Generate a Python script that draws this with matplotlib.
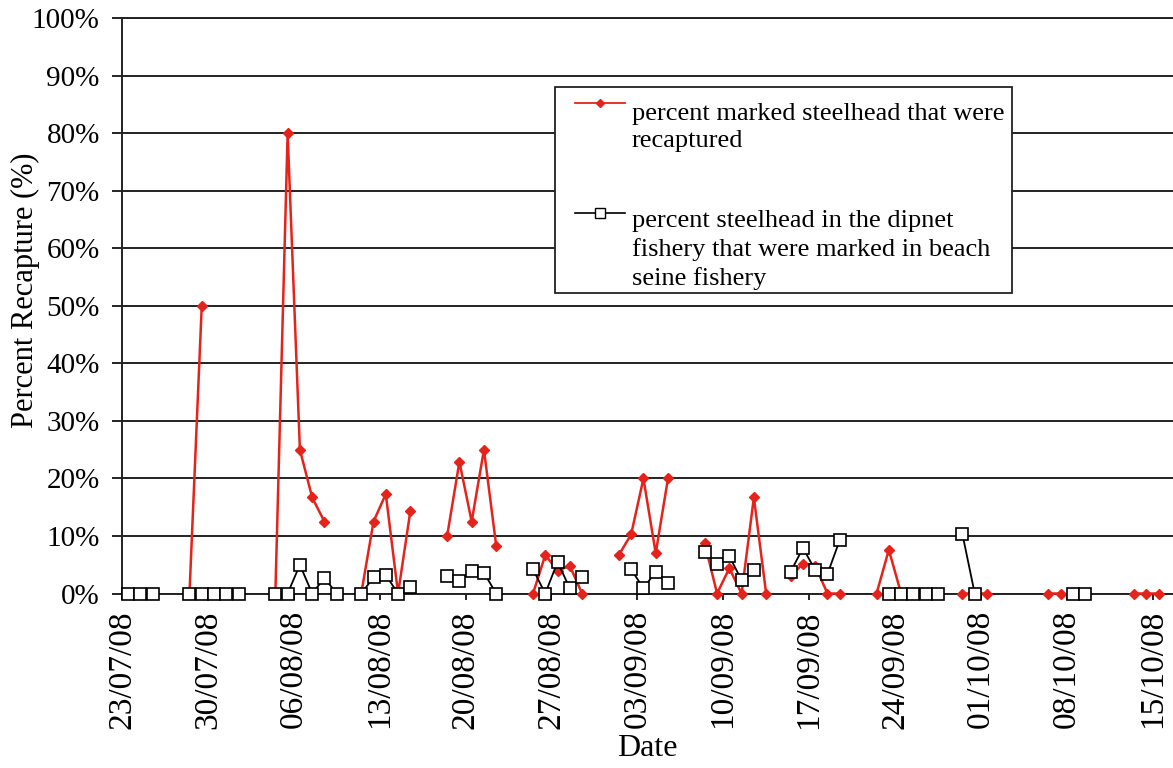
# -*- coding: utf-8 -*-
"""Percent recapture of marked steelhead, 2008"""
import numpy as np
import pandas as pd
import matplotlib
matplotlib.use("Agg")
import matplotlib.pyplot as plt
import matplotlib.dates as mdates
from matplotlib.patches import Rectangle
from matplotlib.lines import Line2D

## Daten (Prozent)
red_dates = ["28/07/08", "29/07/08",
             "04/08/08", "05/08/08", "06/08/08", "07/08/08", "08/08/08",
             "11/08/08", "12/08/08", "13/08/08", "14/08/08", "15/08/08",
             "18/08/08", "19/08/08", "20/08/08", "21/08/08", "22/08/08",
             "25/08/08", "26/08/08", "27/08/08", "28/08/08", "29/08/08",
             "01/09/08", "02/09/08", "03/09/08", "04/09/08", "05/09/08",
             "08/09/08", "09/09/08", "10/09/08", "11/09/08", "12/09/08", "13/09/08",
             "15/09/08", "16/09/08", "17/09/08", "18/09/08", "19/09/08",
             "22/09/08", "23/09/08", "24/09/08",
             "29/09/08", "30/09/08", "01/10/08",
             "06/10/08", "07/10/08",
             "13/10/08", "14/10/08", "15/10/08"]
red_values = [0, 50,
              0, 80, 25, 16.7, 12.5,
              0, 12.5, 17.3, 0, 14.3,
              10.0, 22.9, 12.5, 25.0, 8.3,
              0, 6.7, 4.0, 4.8, 0,
              6.7, 10.3, 20.0, 7.0, 20.0,
              8.7, 0, 4.4, 0, 16.7, 0,
              3.0, 5.2, 4.8, 0, 0,
              0, 7.6, 0,
              0, 0, 0,
              0, 0,
              0, 0, 0]

black_dates = ["23/07/08", "24/07/08", "25/07/08",
               "28/07/08", "29/07/08", "30/07/08", "31/07/08", "01/08/08",
               "04/08/08", "05/08/08", "06/08/08", "07/08/08", "08/08/08", "09/08/08",
               "11/08/08", "12/08/08", "13/08/08", "14/08/08", "15/08/08",
               "18/08/08", "19/08/08", "20/08/08", "21/08/08", "22/08/08",
               "25/08/08", "26/08/08", "27/08/08", "28/08/08", "29/08/08",
               "02/09/08", "03/09/08", "04/09/08", "05/09/08",
               "08/09/08", "09/09/08", "10/09/08", "11/09/08", "12/09/08",
               "15/09/08", "16/09/08", "17/09/08", "18/09/08", "19/09/08",
               "23/09/08", "24/09/08", "25/09/08", "26/09/08", "27/09/08",
               "29/09/08", "30/09/08",
               "08/10/08", "09/10/08"]
black_values = [0, 0, 0,
                0, 0, 0, 0, 0,
                0, 0, 5.0, 0, 2.7, 0,
                0, 2.8, 3.2, 0, 1.1,
                3.1, 2.1, 4.0, 3.6, 0,
                4.2, 0, 5.5, 0.9, 2.9,
                4.2, 0.9, 3.8, 1.8,
                7.3, 5.2, 6.5, 2.3, 4.1,
                3.8, 7.9, 4.1, 3.4, 9.3,
                0, 0, 0, 0, 0,
                10.3, 0,
                0, 0]

tick_dates = ["23/07/08", "30/07/08", "06/08/08", "13/08/08", "20/08/08", "27/08/08",
              "03/09/08", "10/09/08", "17/09/08", "24/09/08", "01/10/08", "08/10/08",
              "15/10/08"]

red_label = "percent marked steelhead that were\nrecaptured"
black_label = "percent steelhead in the dipnet\nfishery that were marked in beach\nseine fishery"


def daily_series(dates, values):
    """Tageswerte, fehlende Tage als Lücke (NaN)"""
    s = pd.Series(values, index=pd.to_datetime(dates, format="%d/%m/%y"), dtype=float)
    full = pd.date_range(s.index.min(), s.index.max(), freq="D")
    s = s.reindex(full)
    # Punkte in Tagesmitte wie bei Excel-Datumsachse
    s.index = s.index + pd.Timedelta(hours=12)
    return s


if __name__ == "__main__":
    plt.rcParams['font.family'] = ['Liberation Serif', 'DejaVu Serif']

    fig = plt.figure(figsize=(11.73, 7.68), dpi=100)
    ax = fig.add_axes([0.104, 0.2272, 0.896, 0.749])

    red = daily_series(red_dates, red_values)
    black = daily_series(black_dates, black_values)

    ax.plot(red.index, red.values, color='#e5231b', linewidth=1.8, marker='D',
            markersize=5, markeredgecolor='#e5231b', zorder=3, clip_on=False)
    ax.plot(black.index, black.values, color='black', linewidth=1.3, marker='s',
            markersize=8, markerfacecolor='white', markeredgecolor='black',
            markeredgewidth=1.2, zorder=4, clip_on=False)

    ticks = pd.to_datetime(tick_dates, format="%d/%m/%y")
    ax.set_xticks(ticks)
    ax.xaxis.set_major_formatter(mdates.DateFormatter('%d/%m/%y'))
    ax.set_xlim(ticks[0], ticks[0] + pd.Timedelta(days=85.66))
    ax.set_ylim(0, 100)
    ax.set_yticks(np.arange(0, 101, 10))
    ax.set_yticklabels([f"{v}%" for v in range(0, 101, 10)])

    ax.grid(True, axis='y', color='#222222', linewidth=1.4)
    ax.set_axisbelow(True)
    ax.spines['right'].set_visible(False)
    for side in ['left', 'bottom', 'top']:
        ax.spines[side].set_color('#222222')
        ax.spines[side].set_linewidth(1.4)

    ax.tick_params(axis='y', direction='out', length=7, width=1.2, pad=9, labelsize=21)
    ax.tick_params(axis='x', direction='out', length=4, width=1.2, pad=8, labelsize=24,
                   labelrotation=90)

    ax.set_xlabel("Date", fontsize=23, labelpad=4)
    ax.set_ylabel("Percent Recapture (%)", fontsize=22)
    ax.yaxis.set_label_coords(-0.078, 0.528)

    # Legende von Hand (Symbole oben bündig wie im Original)
    ax.add_patch(Rectangle((0.412, 0.5224), 0.435, 0.3582, transform=ax.transAxes,
                           facecolor='white', edgecolor='#222222', linewidth=1.3, zorder=5))
    ax.add_line(Line2D([0.431, 0.4548, 0.4786], [0.853, 0.853, 0.853], transform=ax.transAxes,
                       color='#e5231b', linewidth=1.3, marker='D', markersize=4,
                       markevery=[1], zorder=6))
    ax.add_line(Line2D([0.431, 0.4548, 0.4786], [0.6615, 0.6615, 0.6615],
                       transform=ax.transAxes, color='black', linewidth=1.2, zorder=6))
    ax.add_line(Line2D([0.4548], [0.6615], transform=ax.transAxes, color='black',
                       marker='s', markersize=7, markerfacecolor='white',
                       markeredgewidth=1.0, zorder=7))
    ax.text(0.4852, 0.853, red_label, transform=ax.transAxes, fontsize=19,
            va='top', ha='left', linespacing=1.33, zorder=6)
    ax.text(0.4852, 0.667, black_label, transform=ax.transAxes, fontsize=19,
            va='top', ha='left', linespacing=1.33, zorder=6)

    plt.savefig("out.png", dpi=100)
